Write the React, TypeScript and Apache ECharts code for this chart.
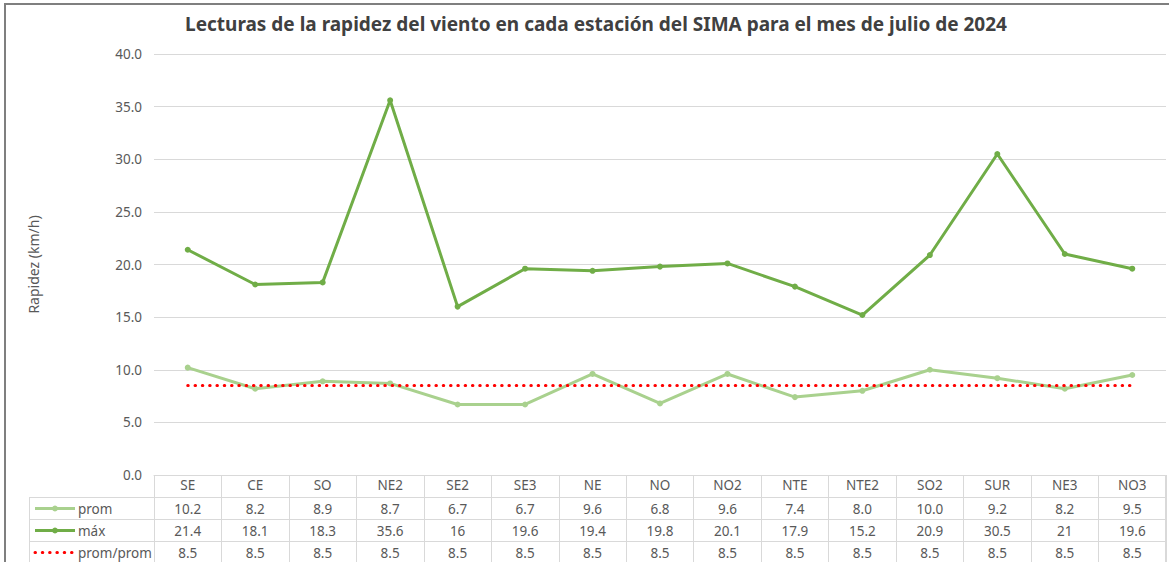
import React, { useEffect, useRef } from "react";
import * as echarts from "echarts";

const categories = ["SE", "CE", "SO", "NE2", "SE2", "SE3", "NE", "NO", "NO2", "NTE", "NTE2", "SO2", "SUR", "NE3", "NO3"];
const promValues = [10.2, 8.2, 8.9, 8.7, 6.7, 6.7, 9.6, 6.8, 9.6, 7.4, 8.0, 10.0, 9.2, 8.2, 9.5];
const maxValues = [21.4, 18.1, 18.3, 35.6, 16, 19.6, 19.4, 19.8, 20.1, 17.9, 15.2, 20.9, 30.5, 21, 19.6];
const promPromValues = [8.5, 8.5, 8.5, 8.5, 8.5, 8.5, 8.5, 8.5, 8.5, 8.5, 8.5, 8.5, 8.5, 8.5, 8.5];
const seriesNames = ["prom", "máx", "prom/prom"];
const yTicks = [0, 5, 10, 15, 20, 25, 30, 35, 40];
const titleText = "Lecturas de la rapidez del viento en cada estación del SIMA para el mes de julio de 2024";
const yAxisName = "Rapidez (km/h)";

const FONT = "Noto Sans";
const TEXT_COLOR = "#595959";
const GRID_COLOR = "#d9d9d9";
const COLORS = ["#a9d18e", "#70ad47", "#ff0000"];
const FS = 13.5;

export default function App() {
  const ref = useRef<HTMLDivElement>(null);
  useEffect(() => {
    if (!ref.current) return;
    const chart = echarts.init(ref.current, undefined, { renderer: "svg" });
    const gridLeft = 154;
    const gridRight = 3;
    const gridTop = 54;
    const gridBottom = 87;
    const W = 1169;
    const H = 562;
    const axisY = H - gridBottom;

    const option: any = {
      animation: false,
      backgroundColor: "#ffffff",
      textStyle: { fontFamily: FONT },
      title: {
        text: titleText,
        left: 591,
        textAlign: "center",
        top: 9,
        textStyle: { fontFamily: FONT, fontSize: 19, fontWeight: "bold", color: "#404040" },
      },
      grid: { left: gridLeft, right: gridRight, top: gridTop, bottom: gridBottom, containLabel: false },
      xAxis: {
        type: "category",
        data: categories,
        boundaryGap: true,
        axisLine: { show: true, lineStyle: { color: GRID_COLOR, width: 1 } },
        axisTick: { show: true, alignWithLabel: false, length: gridBottom, lineStyle: { color: GRID_COLOR } },
        axisLabel: { color: TEXT_COLOR, fontSize: FS, fontFamily: FONT, margin: 3, interval: 0 },
      },
      yAxis: {
        type: "value",
        min: yTicks[0],
        max: yTicks[yTicks.length - 1],
        interval: 5,
        name: yAxisName,
        nameLocation: "middle",
        nameGap: 114,
        nameTextStyle: { color: TEXT_COLOR, fontSize: 14, fontFamily: FONT },
        axisLine: { show: false },
        axisTick: { show: false },
        axisLabel: { color: TEXT_COLOR, fontSize: FS, fontFamily: FONT, margin: 12, formatter: (v: number) => v.toFixed(1) },
        splitLine: { lineStyle: { color: GRID_COLOR, width: 1 } },
      },
      series: [
        {
          name: seriesNames[0],
          type: "line",
          data: promValues,
          symbol: "circle",
          symbolSize: 6,
          itemStyle: { color: COLORS[0] },
          lineStyle: { color: COLORS[0], width: 3 },
          z: 2,
        },
        {
          name: seriesNames[1],
          type: "line",
          data: maxValues,
          symbol: "circle",
          symbolSize: 6,
          itemStyle: { color: COLORS[1] },
          lineStyle: { color: COLORS[1], width: 3 },
          z: 3,
        },
        {
          name: seriesNames[2],
          type: "line",
          data: promPromValues,
          showSymbol: false,
          symbol: "none",
          itemStyle: { color: COLORS[2] },
          lineStyle: { color: COLORS[2], width: 3, type: [0.5, 6.8], cap: "round" },
          z: 4,
        },
      ],
    };
    chart.setOption(option);

    const rowH = 22;
    const headerTop = axisY + 1;
    const headerH = 21;
    const rowsTop = headerTop + headerH;
    const tableLeft = 29;
    const tableRight = W - gridRight;
    const rowsData = [
      promValues.map((v) => v.toFixed(1)),
      maxValues.map((v) => String(v)),
      promPromValues.map((v) => v.toFixed(1)),
    ];
    const elements: any[] = [];
    elements.push({
      type: "polyline",
      shape: { points: [[5, H + 10], [5, 4], [W + 10, 4]] },
      style: { stroke: "#7f7f7f", lineWidth: 2, fill: "none" },
      silent: true,
    });
    for (let r = 0; r <= 3; r++) {
      const y = rowsTop + r * rowH + 0.5;
      elements.push({
        type: "line",
        shape: { x1: tableLeft, y1: y, x2: tableRight, y2: y },
        style: { stroke: GRID_COLOR, lineWidth: 1 },
        silent: true,
      });
    }
    elements.push({
      type: "line",
      shape: { x1: tableLeft + 0.5, y1: rowsTop, x2: tableLeft + 0.5, y2: H },
      style: { stroke: GRID_COLOR, lineWidth: 1 },
      silent: true,
    });
    elements.push({
      type: "line",
      shape: { x1: gridLeft + 0.5, y1: axisY, x2: gridLeft + 0.5, y2: H },
      style: { stroke: GRID_COLOR, lineWidth: 1 },
      silent: true,
    });
    elements.push({
      type: "line",
      shape: { x1: tableRight - 0.5, y1: axisY, x2: tableRight - 0.5, y2: H },
      style: { stroke: GRID_COLOR, lineWidth: 1 },
      silent: true,
    });
    for (let r = 0; r < 3; r++) {
      const cy = rowsTop + r * rowH + rowH / 2 + 0.5;
      for (let i = 0; i < categories.length; i++) {
        const px = chart.convertToPixel({ xAxisIndex: 0 }, i) as number;
        elements.push({
          type: "text",
          x: px,
          y: cy,
          style: {
            text: rowsData[r][i],
            fill: TEXT_COLOR,
            fontSize: FS,
            fontFamily: FONT,
            align: "center",
            verticalAlign: "middle",
          },
          silent: true,
        });
      }
      const kx1 = 35;
      const kx2 = 75;
      if (r < 2) {
        elements.push({
          type: "line",
          shape: { x1: kx1, y1: cy, x2: kx2, y2: cy },
          style: { stroke: COLORS[r], lineWidth: 3 },
          silent: true,
        });
        elements.push({
          type: "circle",
          shape: { cx: (kx1 + kx2) / 2, cy, r: 3 },
          style: { fill: COLORS[r] },
          silent: true,
        });
      } else {
        elements.push({
          type: "line",
          shape: { x1: kx1, y1: cy, x2: kx2, y2: cy },
          style: { stroke: COLORS[r], lineWidth: 3, lineDash: [0.5, 6.8], lineCap: "round" },
          silent: true,
        });
      }
      elements.push({
        type: "text",
        x: kx2 + 3,
        y: cy,
        style: {
          text: seriesNames[r],
          fill: TEXT_COLOR,
          fontSize: FS,
          fontFamily: FONT,
          align: "left",
          verticalAlign: "middle",
        },
        silent: true,
      });
    }
    chart.setOption({ graphic: { elements } });

    return () => chart.dispose();
  }, []);
  return (
    <div
      ref={ref}
      style={{ position: "fixed", left: 0, top: 0, width: 1169, height: 562, background: "#fff" }}
    />
  );
}
